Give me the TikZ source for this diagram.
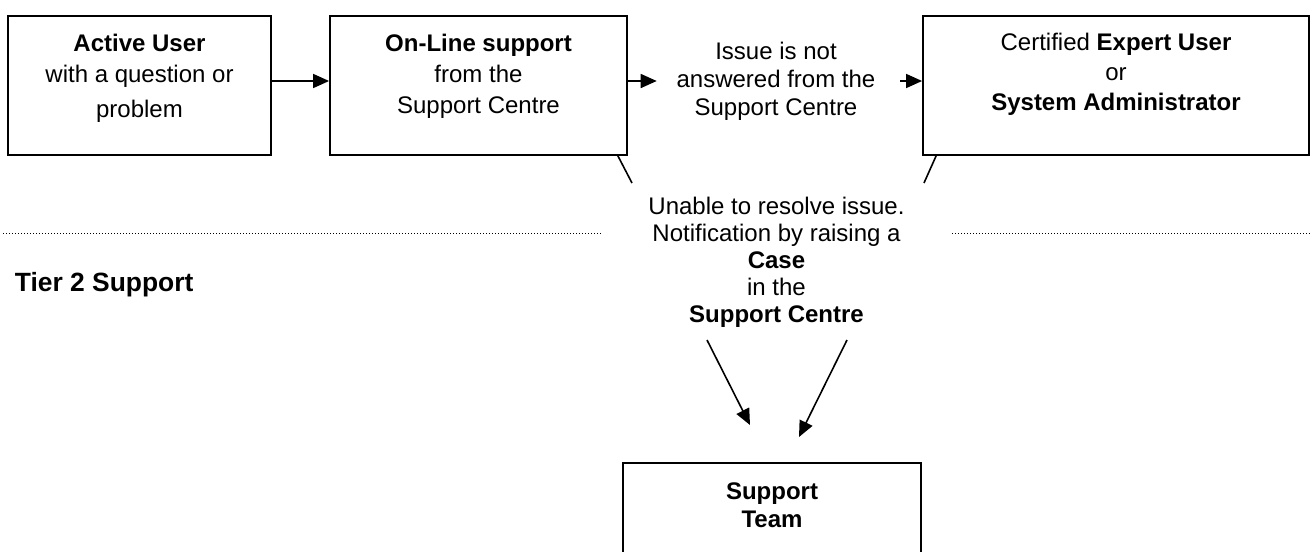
\documentclass[tikz,border=0pt]{standalone}
\usepackage{fontspec}
\setmainfont{Liberation Sans}
\usetikzlibrary{arrows.meta}
\usetikzlibrary{positioning,calc}

\begin{document}
\begin{tikzpicture}[x=0.5pt, y=-0.5pt, line width=0.9pt,
		box/.style = {draw, rectangle, inner sep=0pt},
		txt/.style = {align=center, inner sep=0pt, font=\fontsize{12}{13.5}\selectfont},
		arr/.style = {-{Triangle[length=8pt, width=7pt]}, line width=0.8pt},
		sep/.style = {line width=0.5pt, dash pattern=on 0.5pt off 1pt}]
		\useasboundingbox (0,0) rectangle (1314,552);
		% tier 1 boxes
		\node[box, minimum width=131.5pt, minimum height=69.5pt] (user) at (139.5,85.5) {};
		\node[box, minimum width=148.5pt, minimum height=69.5pt] (online) at (478.5,85.5) {};
		\node[box, minimum width=193pt, minimum height=69.5pt] (expert) at (1116,85.5) {};
		\node[txt, anchor=north] (usertxt) at (139.5,33) {\textbf{Active User}\\[2pt]with a question or\\[4pt]problem};
		\node[txt, anchor=north] (onlinetxt) at (478.5,33) {\textbf{On-Line support}\\[2pt]from the\\[2pt]Support Centre};
		\node[txt, anchor=north] (experttxt) at (1116,32) {Certified \textbf{Expert User}\\[1.5pt]or\\[1.5pt]\textbf{System Administrator}};
		\node[txt, inner xsep=9.5pt] (issue) at (776,81) {Issue is not\\[0.5pt]answered from the\\[0.5pt]Support Centre};
		% escalation
		\node[txt, anchor=north] (case) at (776.5,196) {Unable to resolve issue.\\Notification by raising a\\\textbf{Case}\\in the\\\textbf{Support Centre}};
		\node[txt, anchor=base west, font=\fontsize{13.2}{15}\selectfont\bfseries] (tier) at (14,291.7) {Tier 2 Support};
		% tier 2 box
		\node[box, minimum width=149pt, minimum height=50pt] (team) at (772,513) {};
		\node[txt, anchor=north] (teamtxt) at (772,482) {\textbf{Support}\\[0.5pt]\textbf{Team}};
		\coordinate (cl) at (632,183);
		\coordinate (cr) at (924,183);
		\coordinate (al) at (707,340);
		\coordinate (ar) at (847,340);
		\coordinate (tl) at (750,425);
		\coordinate (tr) at (799,437);
		\draw[arr] ([yshift=2.25pt]user.east) -- ([yshift=2.25pt]online.west);
		\draw[arr] ([yshift=2.25pt]online.east) -- (issue.west);
		\draw[arr, shorten <=2.5pt] (issue.east) -- ([yshift=2.25pt]expert.west);
		\draw[line width=0.8pt] ([xshift=-5pt]online.south east) -- (cl);
		\draw[line width=0.8pt] ([xshift=7pt]expert.south west) -- (cr);
		\draw[arr] (al) -- (tl);
		\draw[arr] (ar) -- (tr);
		\draw[sep] (3,233) -- (602,233);
		\draw[sep] (952,233) -- (1311,233);
	\end{tikzpicture}
\end{document}
